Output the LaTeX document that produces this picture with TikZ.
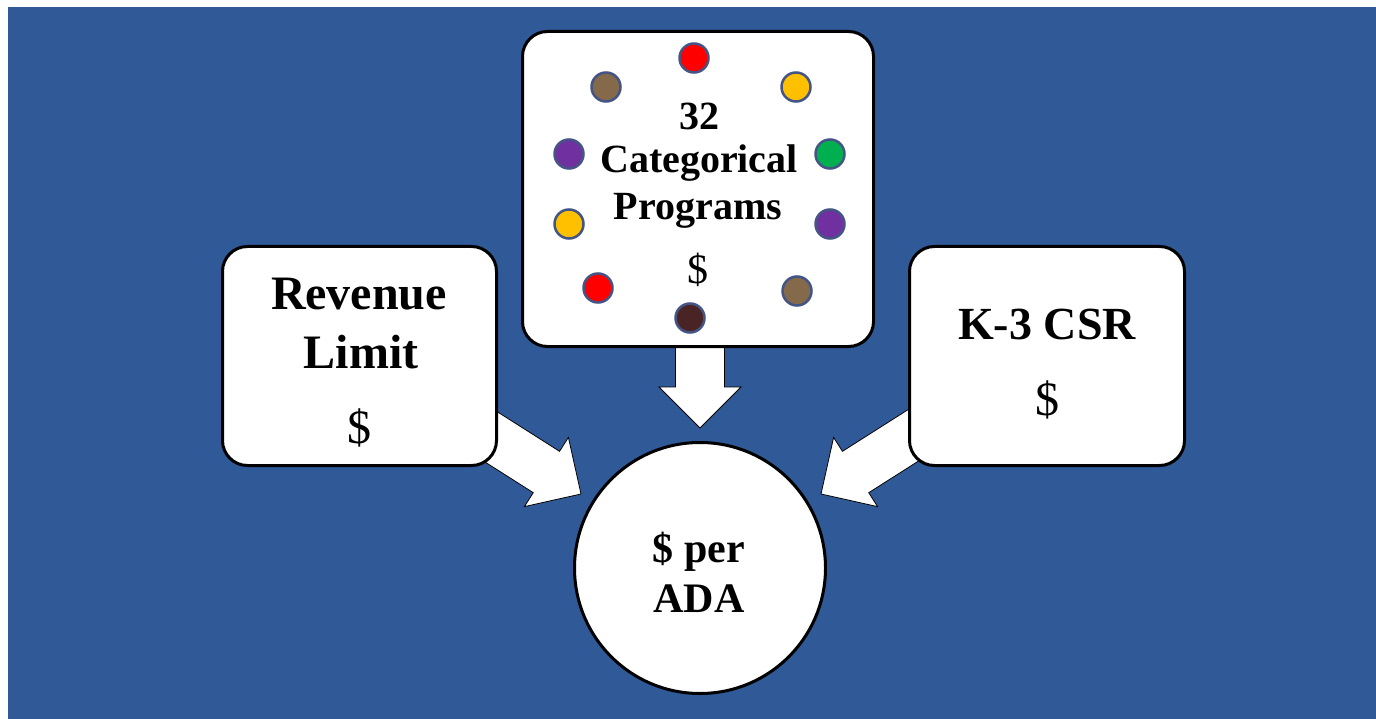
\documentclass[tikz,border=0pt]{standalone}
\usepackage{fontspec}
\setmainfont{Liberation Serif}
\usetikzlibrary{calc}

\definecolor{slide}{RGB}{47,89,151}
\definecolor{dotrim}{RGB}{68,84,132}
\definecolor{dotred}{RGB}{255,0,0}
\definecolor{dotbrown}{RGB}{132,105,74}
\definecolor{dotgold}{RGB}{255,192,0}
\definecolor{dotpurple}{RGB}{112,48,160}
\definecolor{dotgreen}{RGB}{0,176,80}
\definecolor{dotdark}{RGB}{74,36,36}

\tikzset{
  card/.style={draw=black, line width=3pt, fill=white, rounded corners=25pt, inner sep=0pt},
  hub/.style={circle, draw=black, line width=3pt, fill=white, minimum size=251pt, inner sep=0pt},
  txt/.style={anchor=base, inner sep=0pt, text=black},
  dot/.style={circle, draw=dotrim, line width=2.5pt, minimum size=29pt, inner sep=0pt},
  flow/.style={draw=black, line width=0.8pt, fill=white, line join=miter},
}

% white block arrow from coordinate #1 to its tip #2
\newcommand\blockarrow[2]{%
  \coordinate (#2-h) at ($(#2)!41pt!(#1)$);
  \draw[flow] (#2) -- ($(#2-h)!41pt!90:(#2)$) -- ($(#2-h)!24.5pt!90:(#2)$)
    -- ($(#1)!24.5pt!90:(#2)$) -- ($(#1)!24.5pt!-90:(#2)$)
    -- ($(#2-h)!24.5pt!-90:(#2)$) -- ($(#2-h)!41pt!-90:(#2)$) -- cycle;}

\begin{document}
\begin{tikzpicture}[x=1pt, y=-1pt]
  \useasboundingbox (0,0) rectangle (1376,719);
  \fill[slide] (8,7) rectangle (1376,719);

  % arrow anchors
  \coordinate (revOut) at (452,412);
  \coordinate (tipL) at (581,494);
  \coordinate (csrOut) at (950,412);
  \coordinate (tipR) at (821,494);
  \coordinate (catOut) at (700,330);
  \coordinate (tipD) at (700,428);

  \blockarrow{revOut}{tipL}
  \blockarrow{csrOut}{tipR}
  \blockarrow{catOut}{tipD}

  % boxes and hub
  \node[card, minimum width=274pt, minimum height=219pt] (rev) at (359.5,356) {};
  \node[card, minimum width=275pt, minimum height=219pt] (csr) at (1047,356) {};
  \node[card, minimum width=351pt, minimum height=315pt] (cat) at (698,189) {};
  \node[hub] (ada) at (700,568) {};

  % ring of coloured dots
  \node[dot, fill=dotred]    (d1)  at (694,58) {};
  \node[dot, fill=dotgold]   (d2)  at (796,87) {};
  \node[dot, fill=dotgreen]  (d3)  at (830,154) {};
  \node[dot, fill=dotpurple] (d4)  at (830,224) {};
  \node[dot, fill=dotbrown]  (d5)  at (797,291) {};
  \node[dot, fill=dotdark]   (d6)  at (690,318) {};
  \node[dot, fill=dotred]    (d7)  at (598,288) {};
  \node[dot, fill=dotgold]   (d8)  at (569,224) {};
  \node[dot, fill=dotpurple] (d9)  at (569,154) {};
  \node[dot, fill=dotbrown]  (d10) at (606,87) {};

  % texts
  \node[txt, font=\bfseries\fontsize{40}{40}\selectfont] (c1) at (699,130) {32};
  \node[txt, font=\bfseries\fontsize{40}{40}\selectfont] (c2) at (699,173) {Categorical};
  \node[txt, font=\bfseries\fontsize{40}{40}\selectfont] (c3) at (698,220) {Programs};
  \node[txt, font=\fontsize{42}{42}\selectfont] (c4) at (698,284) {\$};

  \node[txt, font=\bfseries\fontsize{48}{48}\selectfont] (r1) at (359,309) {Revenue};
  \node[txt, font=\bfseries\fontsize{48}{48}\selectfont] (r2) at (361,368) {Limit};
  \node[txt, font=\fontsize{48}{48}\selectfont] (r3) at (359,443) {\$};

  \node[txt, font=\bfseries\fontsize{46}{46}\selectfont] (k1) at (1047,339) {K-3 CSR};
  \node[txt, font=\fontsize{48}{48}\selectfont] (k2) at (1047,415) {\$};

  \node[txt, font=\bfseries\fontsize{42}{42}\selectfont] (a1) at (699,562) {\$ per};
  \node[txt, font=\bfseries\fontsize{42}{42}\selectfont] (a2) at (699,612) {ADA};
\end{tikzpicture}
\end{document}
